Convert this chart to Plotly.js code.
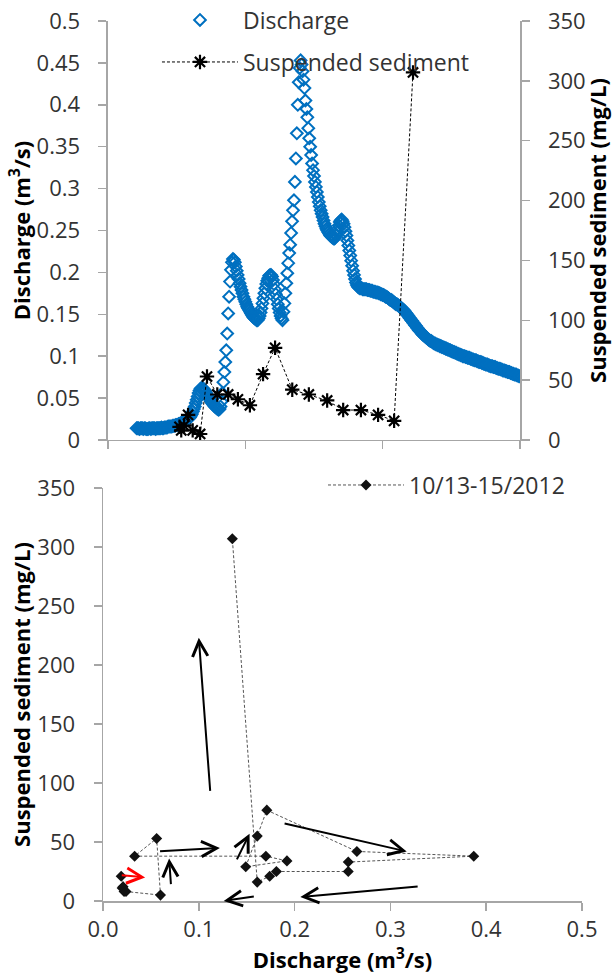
<!DOCTYPE html>
<html><head><meta charset="utf-8">
<script src="https://cdn.plot.ly/plotly-3.0.1.min.js"></script>
<style>html,body{margin:0;padding:0;background:#fff;}#chart{width:612px;height:978px;}</style>
</head><body><div id="chart"></div>
<script>
// Discharge (m3/s): 10-minute readings, first one at hour 5 of 10/13/2012
const dischargeStartHour = 5;
const dischargeStepHours = 1 / 6;
const discharge = [
 0.014,0.014,0.014,0.013,0.014,0.014, // 5h
 0.014,0.013,0.014,0.014,0.013,0.013,
 0.013,0.014,0.014,0.013,0.014,0.014,
 0.014,0.014,0.013,0.014,0.014,0.014,
 0.014,0.014,0.015,0.014,0.014,0.015,
 0.015,0.015,0.015,0.016,0.016,0.016, // 10h
 0.016,0.016,0.017,0.017,0.017,0.018,
 0.018,0.018,0.019,0.019,0.020,0.020,
 0.021,0.021,0.022,0.022,0.023,0.024,
 0.025,0.026,0.027,0.029,0.031,0.034,
 0.037,0.040,0.044,0.048,0.052,0.056, // 15h
 0.059,0.061,0.062,0.062,0.061,0.060,
 0.058,0.056,0.054,0.052,0.050,0.048,
 0.046,0.044,0.043,0.041,0.040,0.039,
 0.038,0.037,0.036,0.037,0.040,0.046,
 0.056,0.069,0.081,0.093,0.107,0.127, // 20h
 0.151,0.171,0.189,0.203,0.212,0.216,
 0.215,0.212,0.207,0.202,0.197,0.192,
 0.187,0.183,0.179,0.175,0.171,0.168,
 0.165,0.162,0.159,0.157,0.155,0.153,
 0.151,0.149,0.147,0.146,0.145,0.144, // 25h
 0.143,0.143,0.145,0.148,0.152,0.157,
 0.163,0.169,0.175,0.181,0.186,0.190,
 0.193,0.196,0.197,0.197,0.195,0.191,
 0.186,0.180,0.174,0.168,0.162,0.157,
 0.152,0.148,0.145,0.143,0.153,0.163, // 30h
 0.175,0.187,0.199,0.211,0.223,0.233,
 0.247,0.261,0.274,0.286,0.308,0.336,
 0.366,0.400,0.427,0.444,0.453,0.448,
 0.440,0.430,0.420,0.405,0.395,0.385,
 0.372,0.360,0.350,0.340,0.330,0.322, // 35h
 0.315,0.308,0.302,0.296,0.290,0.284,
 0.279,0.274,0.270,0.266,0.262,0.258,
 0.255,0.252,0.250,0.248,0.246,0.244,
 0.243,0.242,0.241,0.240,0.241,0.244,
 0.248,0.252,0.256,0.260,0.262,0.263, // 40h
 0.261,0.258,0.254,0.249,0.244,0.238,
 0.232,0.226,0.220,0.214,0.208,0.202,
 0.197,0.192,0.188,0.185,0.183,0.182,
 0.181,0.181,0.181,0.180,0.180,0.180,
 0.180,0.180,0.179,0.179,0.179,0.178, // 45h
 0.178,0.178,0.177,0.177,0.177,0.176,
 0.176,0.176,0.175,0.175,0.174,0.174,
 0.173,0.173,0.172,0.171,0.171,0.170,
 0.169,0.168,0.167,0.167,0.166,0.165,
 0.164,0.163,0.162,0.162,0.161,0.160, // 50h
 0.159,0.158,0.157,0.156,0.155,0.154,
 0.152,0.151,0.149,0.148,0.146,0.145,
 0.143,0.142,0.140,0.139,0.137,0.136,
 0.134,0.133,0.131,0.130,0.129,0.127,
 0.126,0.125,0.124,0.123,0.122,0.121, // 55h
 0.120,0.119,0.118,0.118,0.117,0.116,
 0.115,0.115,0.114,0.114,0.113,0.113,
 0.112,0.112,0.111,0.111,0.110,0.110,
 0.109,0.109,0.108,0.108,0.107,0.107,
 0.106,0.106,0.105,0.105,0.104,0.104, // 60h
 0.103,0.103,0.102,0.102,0.101,0.101,
 0.100,0.100,0.100,0.099,0.099,0.098,
 0.098,0.098,0.097,0.097,0.096,0.096,
 0.095,0.095,0.095,0.094,0.094,0.093,
 0.093,0.093,0.092,0.092,0.091,0.091, // 65h
 0.090,0.090,0.090,0.089,0.089,0.088,
 0.088,0.088,0.087,0.087,0.087,0.086,
 0.086,0.085,0.085,0.085,0.084,0.084,
 0.083,0.083,0.083,0.082,0.082,0.081,
 0.081,0.081,0.080,0.080,0.079,0.079, // 70h
 0.078,0.078,0.078,0.077,0.077,0.076,
 0.076
];

// Suspended sediment samples (hours since 10/13 00:00, mg/L)
const sedimentHours = [12.5, 12.8, 13.3, 14.0, 14.8, 16.1, 17.3, 19.1, 21.0, 22.7, 24.8,
                       27.1, 29.2, 32.2, 35.1, 38.3, 41.1, 44.2, 47.2, 50.0, 53.3];
const sediment = [11, 8, 12, 21, 8, 5, 53, 38, 38, 34, 29, 55, 77, 42, 38, 33, 25, 25, 21, 16, 307];

// Discharge at each sediment sample (bottom hysteresis plot)
const sampleDischarge = [0.020, 0.022, 0.021, 0.019, 0.024, 0.060, 0.056, 0.033, 0.170, 0.192, 0.149,
                         0.161, 0.171, 0.265, 0.387, 0.256, 0.256, 0.181, 0.174, 0.161, 0.135];

// Hand-drawn direction arrows on the hysteresis plot: [tailQ, tailSS, tipQ, tipSS, colour]
const arrows = [
  [0.112, 92, 0.100, 223, '#000000'],
  [0.058, 42, 0.122, 45, '#000000'],
  [0.071, 13, 0.069, 36, '#000000'],
  [0.139, 34, 0.153, 57, '#000000'],
  [0.159, 4, 0.126, 0, '#000000'],
  [0.188, 66, 0.317, 42, '#000000'],
  [0.330, 12.5, 0.206, 3.4, '#000000'],
  [0.018, 22, 0.044, 20, '#ff0000']
];

const seriesNames = ['Discharge', 'Suspended sediment', '10/13-15/2012'];

const dischargeHours = discharge.map((_, i) => dischargeStartHour + i * dischargeStepHours);

const axisGrey = '#a6a6a6';
const textCol = '#333333';
const baseFont = {family: 'Open Sans', size: 22, color: textCol};
const legendFont = {family: 'Open Sans', size: 23, color: textCol};
const titleFont = {family: 'Open Sans', size: 22, color: '#000000', weight: 'bold'};

const traces = [
  {
    x: dischargeHours, y: discharge, xaxis: 'x', yaxis: 'y',
    type: 'scatter', mode: 'markers', name: seriesNames[0], legend: 'legend',
    marker: {symbol: 'diamond-open', size: 9, color: '#0070C0', line: {width: 2, color: '#0070C0'}}
  },
  {
    x: sedimentHours, y: sediment, xaxis: 'x', yaxis: 'y2',
    type: 'scatter', mode: 'lines+markers', name: seriesNames[1], legend: 'legend2',
    line: {color: '#000000', width: 1, dash: '3px,2px'},
    marker: {symbol: 'asterisk-open', size: 12, color: '#000000', line: {width: 2.2, color: '#000000'}}
  },
  {
    x: sampleDischarge, y: sediment, xaxis: 'x2', yaxis: 'y3',
    type: 'scatter', mode: 'lines+markers', name: seriesNames[2], legend: 'legend3',
    line: {color: '#555555', width: 1, dash: '3px,2px'},
    marker: {symbol: 'diamond', size: 8.5, color: '#111111'}
  }
];

const axisCommon = {
  showgrid: false, zeroline: false, showline: true, linecolor: axisGrey, linewidth: 1.5,
  ticks: 'outside', ticklen: 8, tickwidth: 1.5, tickcolor: axisGrey,
  tickfont: baseFont, fixedrange: true
};

const annotations = arrows.map(a => ({
  xref: 'x2', yref: 'y3', axref: 'x2', ayref: 'y3',
  x: a[2], y: a[3], ax: a[0], ay: a[1],
  text: '', showarrow: true, arrowhead: 5, arrowsize: 1.5, arrowwidth: 2, arrowcolor: a[4]
}));

const layout = {
  width: 612, height: 978,
  margin: {l: 103, r: 30, t: 21, b: 77, autoexpand: false},
  paper_bgcolor: '#ffffff', plot_bgcolor: '#ffffff',
  font: baseFont,
  showlegend: true,
  xaxis: Object.assign({}, axisCommon, {
    domain: [0.0104, 0.8706], anchor: 'y', range: [0, 72], tick0: 0, dtick: 24,
    showticklabels: false
  }),
  yaxis: Object.assign({}, axisCommon, {
    domain: [0.5239, 1], anchor: 'x', range: [0, 0.5], tick0: 0, dtick: 0.05,
    ticklabelstandoff: 14,
    title: {text: 'Discharge (m<sup>3</sup>/s)', font: titleFont, standoff: 0}
  }),
  yaxis2: Object.assign({}, axisCommon, {
    overlaying: 'y', side: 'right', anchor: 'x', range: [0, 350], tick0: 0, dtick: 50,
    ticklabelstandoff: 14,
    title: {text: 'Suspended sediment (mg/L)', font: titleFont, standoff: 0}
  }),
  xaxis2: Object.assign({}, axisCommon, {
    domain: [0, 1], anchor: 'y3', range: [0, 0.5], tick0: 0, dtick: 0.1, tickformat: '.1f',
    title: {text: 'Discharge (m<sup>3</sup>/s)', font: titleFont, standoff: 0}
  }),
  yaxis3: Object.assign({}, axisCommon, {
    domain: [0, 0.4693], anchor: 'x2', range: [0, 350], tick0: 0, dtick: 50,
    ticklabelstandoff: 14,
    title: {text: 'Suspended sediment (mg/L)', font: titleFont, standoff: 0}
  }),
  legend: {x: 0.1127, y: 1.0011, xanchor: 'left', yanchor: 'middle', bgcolor: 'rgba(0,0,0,0)',
           font: legendFont, itemwidth: 76, borderwidth: 0},
  legend2: {x: 0.1127, y: 0.9534, xanchor: 'left', yanchor: 'middle', bgcolor: 'rgba(0,0,0,0)',
            font: legendFont, itemwidth: 76, borderwidth: 0},
  legend3: {x: 0.4593, y: 0.4727, xanchor: 'left', yanchor: 'middle', bgcolor: 'rgba(0,0,0,0)',
            font: legendFont, itemwidth: 76, borderwidth: 0},
  annotations: annotations
};

Plotly.newPlot('chart', traces, layout, {staticPlot: true, displayModeBar: false});
</script>
</body></html>
